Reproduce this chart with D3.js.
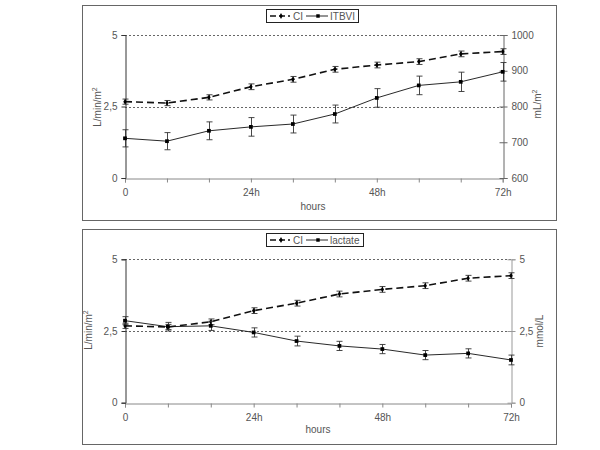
<!DOCTYPE html>
<html><head><meta charset="utf-8">
<script src="https://cdn.jsdelivr.net/npm/d3@7"></script>
<style>body{margin:0;background:#fff}svg{display:block}text{font-family:"Liberation Sans",Arial,sans-serif}</style>
</head><body>
<script>
// ---- data ----
const hours = [0, 8, 16, 24, 32, 40, 48, 56, 64, 72];
const xTickHours = [0, 24, 48, 72];
const xTickLabels = ["0", "24h", "48h", "72h"];
const ciLeftTicks = [0, 2.5, 5];
const ciLeftLabels = ["0", "2,5", "5"];

// panel 1
const ci1 = [2.67, 2.62, 2.82, 3.19, 3.45, 3.80, 3.95, 4.07, 4.34, 4.42];
const ci1Err = [0.09, 0.09, 0.09, 0.1, 0.1, 0.1, 0.1, 0.1, 0.1, 0.1];
const itbvi = [711, 703, 732, 743, 751, 779, 824, 859, 869, 897];
const itbviErr = [24, 24, 25, 26, 25, 25, 26, 26, 27, 26];
const itbviTicks = [600, 700, 800, 900, 1000];

// panel 2
const ci2 = [2.68, 2.64, 2.82, 3.21, 3.47, 3.79, 3.95, 4.08, 4.34, 4.43];
const ci2Err = [0.09, 0.09, 0.1, 0.1, 0.1, 0.1, 0.1, 0.1, 0.1, 0.1];
const lactate = [2.86, 2.65, 2.68, 2.45, 2.15, 1.98, 1.87, 1.66, 1.72, 1.49];
const lactateErr = [0.14, 0.15, 0.16, 0.16, 0.17, 0.16, 0.16, 0.16, 0.16, 0.17];
const lactateTicks = [0, 2.5, 5];
const lactateLabels = ["0", "2,5", "5"];

const svg = d3.select("body").append("svg").attr("width", 600).attr("height", 450);
const TXT = "#555";

function panel(cfg) {
  const g = svg.append("g");
  g.append("rect").attr("x", cfg.frame[0] + 0.5).attr("y", cfg.frame[1] + 0.5)
    .attr("width", cfg.frame[2]).attr("height", cfg.frame[3])
    .attr("fill", "#fff").attr("stroke", "#666");

  const x = d3.scaleLinear().domain([0, 72]).range(cfg.xr);
  const yL = d3.scaleLinear().domain([0, 5]).range(cfg.yr);
  const yR = d3.scaleLinear().domain(cfg.rDomain).range(cfg.yr);

  // gridlines
  g.selectAll(".grid").data([2.5, 5]).join("line")
    .attr("x1", cfg.xr[0]).attr("x2", cfg.xr[1])
    .attr("y1", d => Math.round(yL(d)) + 0.5).attr("y2", d => Math.round(yL(d)) + 0.5)
    .attr("stroke", "#666").attr("stroke-dasharray", "2,2");

  // x axis
  const xAxis = g.append("g").attr("transform", `translate(0,${Math.round(cfg.yr[0]) + 0.5})`)
    .call(d3.axisBottom(x).tickValues(hours).tickSize(4).tickFormat(d => {
      const i = xTickHours.indexOf(d); return i >= 0 ? xTickLabels[i] : "";
    }));
  xAxis.select(".domain").attr("stroke", "#888");
  xAxis.selectAll(".tick line").attr("stroke", "#888");
  xAxis.selectAll("text").attr("font-size", 10).attr("fill", TXT).attr("dy", "1.0em")
    .attr("font-family", "Liberation Sans, Arial, sans-serif");

  // left axis
  const lAxis = g.append("g").attr("transform", `translate(${Math.round(cfg.xr[0]) + 0.5},0)`)
    .call(d3.axisLeft(yL).tickValues(ciLeftTicks).tickSize(4).tickPadding(4)
      .tickFormat((d, i) => ciLeftLabels[i]));
  lAxis.select(".domain").attr("stroke", "#333");
  lAxis.selectAll(".tick line").attr("stroke", "#333");
  lAxis.selectAll("text").attr("font-size", 10).attr("fill", TXT)
    .attr("font-family", "Liberation Sans, Arial, sans-serif");

  // right axis
  const rAxis = g.append("g").attr("transform", `translate(${Math.round(cfg.xr[1]) + 0.5},0)`)
    .call(d3.axisRight(yR).tickValues(cfg.rTicks).tickSize(4).tickPadding(4)
      .tickFormat((d, i) => cfg.rLabels[i]));
  rAxis.select(".domain").attr("stroke", cfg.rColor);
  rAxis.selectAll(".tick line").attr("stroke", cfg.rColor).attr("x1", -4);
  rAxis.selectAll("text").attr("font-size", 10).attr("fill", TXT)
    .attr("font-family", "Liberation Sans, Arial, sans-serif");

  // axis titles
  const lt = g.append("text").attr("transform", `translate(${cfg.lTitle[0]},${cfg.lTitle[1]}) rotate(-90)`)
    .attr("text-anchor", "middle").attr("font-size", 10).attr("fill", TXT);
  lt.append("tspan").text("L/min/m");
  lt.append("tspan").attr("dy", -4).attr("font-size", 7).text("2");
  const rt = g.append("text").attr("transform", `translate(${cfg.rTitle[0]},${cfg.rTitle[1]}) rotate(-90)`)
    .attr("text-anchor", "middle").attr("font-size", 10).attr("fill", TXT);
  rt.append("tspan").text(cfg.rTitleText);
  if (cfg.rTitleSup) rt.append("tspan").attr("dy", -4).attr("font-size", 7).text(cfg.rTitleSup);
  g.append("text").attr("x", cfg.xTitle[0]).attr("y", cfg.xTitle[1]).attr("text-anchor", "middle")
    .attr("font-size", 10).attr("fill", TXT).text("hours");

  // series
  const series = [
    {vals: cfg.ci, err: cfg.ciErr, y: yL, dash: "7,4", w: 1.6, marker: "diamond"},
    {vals: cfg.s2, err: cfg.s2Err, y: yR, dash: null, w: 0.9, marker: "square"}
  ];
  series.forEach(s => {
    const line = d3.line().x((d, i) => x(hours[i])).y(d => s.y(d));
    g.append("path").datum(s.vals).attr("d", line).attr("fill", "none")
      .attr("stroke", "#111").attr("stroke-width", s.w).attr("stroke-dasharray", s.dash);
    const eb = g.append("g").attr("stroke", "#333").attr("stroke-width", 0.9);
    s.vals.forEach((v, i) => {
      const cx = Math.round(x(hours[i])) + 0.5;
      const y1 = s.y(v + s.err[i]), y2 = s.y(v - s.err[i]);
      eb.append("line").attr("x1", cx).attr("x2", cx).attr("y1", y1).attr("y2", y2);
      eb.append("line").attr("x1", cx - 3).attr("x2", cx + 3).attr("y1", y1).attr("y2", y1);
      eb.append("line").attr("x1", cx - 3).attr("x2", cx + 3).attr("y1", y2).attr("y2", y2);
    });
    const sym = s.marker === "diamond" ? d3.symbolDiamond : d3.symbolSquare;
    g.selectAll(null).data(s.vals).join("path")
      .attr("transform", (d, i) => `translate(${x(hours[i])},${s.y(d)})`)
      .attr("d", d3.symbol(sym, s.marker === "diamond" ? 10 : 14)).attr("fill", "#000");
  });

  // legend
  const L = cfg.legend;
  g.append("rect").attr("x", L.x + 0.5).attr("y", L.y + 0.5).attr("width", L.w).attr("height", 13)
    .attr("fill", "#fff").attr("stroke", "#222");
  const ly = L.y + 7;
  g.append("line").attr("x1", L.x + 4).attr("x2", L.x + 24).attr("y1", ly).attr("y2", ly)
    .attr("stroke", "#111").attr("stroke-width", 1.6).attr("stroke-dasharray", "6,3");
  g.append("path").attr("transform", `translate(${L.x + 15},${ly})`).attr("d", d3.symbol(d3.symbolDiamond, 10)).attr("fill", "#000");
  g.append("text").attr("x", L.x + 27).attr("y", ly + 3.5).attr("font-size", 10).attr("fill", TXT).text("CI");
  g.append("line").attr("x1", L.x + 40).attr("x2", L.x + 62).attr("y1", ly).attr("y2", ly)
    .attr("stroke", "#111").attr("stroke-width", 0.9);
  g.append("path").attr("transform", `translate(${L.x + 52},${ly})`).attr("d", d3.symbol(d3.symbolSquare, 12)).attr("fill", "#000");
  g.append("text").attr("x", L.x + 64).attr("y", ly + 3.5).attr("font-size", 10).attr("fill", TXT).text(cfg.s2Name);
}

panel({
  frame: [82, 5, 474, 215], xr: [125, 502.7], yr: [178, 35],
  rDomain: [600, 1000], rTicks: itbviTicks, rLabels: itbviTicks.map(String), rColor: "#666",
  lTitle: [101, 107], rTitle: [541, 104], rTitleText: "mL/m", rTitleSup: "2", xTitle: [313, 210],
  ci: ci1, ciErr: ci1Err, s2: itbvi, s2Err: itbviErr, s2Name: "ITBVI",
  legend: {x: 266, y: 9, w: 92}
});
panel({
  frame: [82, 229, 474, 215], xr: [125, 511], yr: [402.7, 259.3],
  rDomain: [0, 5], rTicks: lactateTicks, rLabels: lactateLabels, rColor: "#999",
  lTitle: [92, 330], rTitle: [543, 331], rTitleText: "mmol/L", rTitleSup: null, xTitle: [318, 433],
  ci: ci2, ciErr: ci2Err, s2: lactate, s2Err: lactateErr, s2Name: "lactate",
  legend: {x: 266, y: 233, w: 97}
});
</script>
</body></html>
